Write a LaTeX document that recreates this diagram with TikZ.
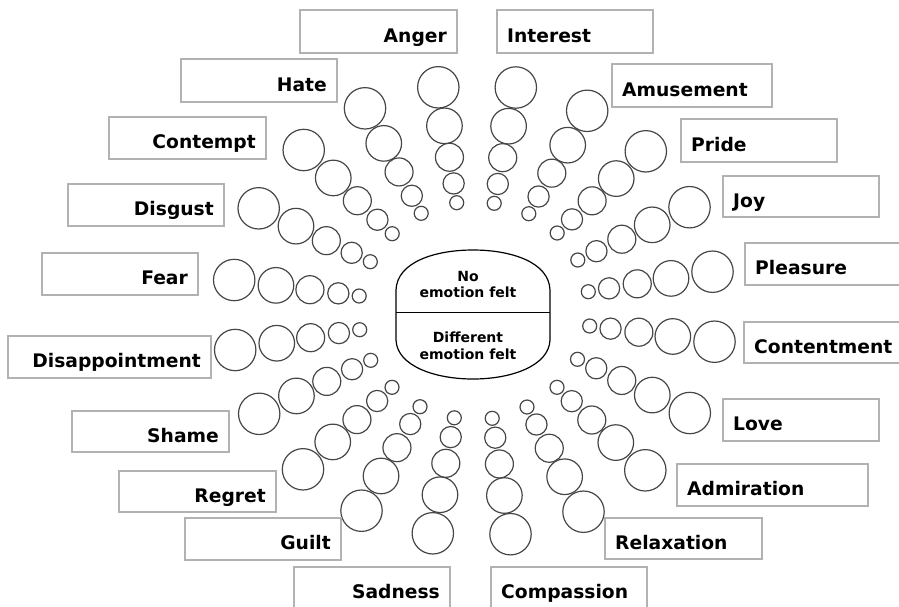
\documentclass[tikz,border=0pt]{standalone}
\usepackage{fontspec}
\setmainfont{DejaVu Sans}
\definecolor{boxgray}{RGB}{178,178,178}
\definecolor{circgray}{RGB}{70,70,70}
\begin{document}
\begin{tikzpicture}[x=1pt,y=-1pt,
  lbox/.style={draw=boxgray, line width=1.2pt},
  ltext/.style={font=\fontsize{18.7}{22}\selectfont\bfseries, inner sep=0pt},
  bub/.style={draw=circgray, line width=1.2pt},
  ctext/.style={font=\fontsize{14}{16.5}\selectfont\bfseries, inner sep=0pt, anchor=base}]
\useasboundingbox (0,0) rectangle (899,606);
\clip (0,0) rectangle (899,606);
% bubbles: small x/y ; large x/y
\foreach \sx/\sy/\lx/\ly in {
  456.7/202.7/438.3/87.3,
  421.2/213.3/365/108.3,
  392.2/233.7/303.7/150,
  370.3/261.7/258.7/208.3,
  359.2/296/234.2/280,
  359.7/329.7/235.2/350,
  370.7/360.3/259.2/413.8,
  392/387.3/303/469.3,
  420/406.7/361.5/510.7,
  454.3/417.8/432.8/533.3,
  492.2/418.3/510.5/534.2,
  527/407/583.5/511.7,
  557/387.3/645.3/470.3,
  577.5/359.3/689.8/413,
  589.7/326/714.5/341.7,
  588.3/291.7/712.5/271.7,
  577.8/260/689.5/207.2,
  557.2/233/645.8/151.3,
  528.8/213.7/587.2/110.8,
  494.2/203.3/515.8/87.5}{
  \foreach \t/\r in {0/7,0.167/10.6,0.394/14,0.666/17.8,1/20.7}{
    \draw[bub] ({\sx+\t*(\lx-\sx)},{\sy+\t*(\ly-\sy)}) circle[radius=\r pt];
  }
}
% left labels (right aligned)
\foreach \nm/\xa/\ya/\xb/\yb/\txt in {
  anger/300/10/457/53/Anger,
  hate/181/59/337/102/Hate,
  contempt/109/117/266/159/Contempt,
  disgust/68/184/224/226/Disgust,
  fear/42/253/198/295/Fear,
  disap/8/336/211/378/Disappointment,
  shame/72/411/229/452/Shame,
  regret/119/471/276/512/Regret,
  guilt/185/518/341/560/Guilt,
  sadness/294/567/450/609/Sadness}{
  \draw[lbox] (\xa,\ya) rectangle (\xb,\yb);
  \node[ltext, anchor=base east] (\nm) at ({\xb-10},{(\ya+\yb)/2+10.5}) {\txt};
}
% right labels (left aligned)
\foreach \nm/\xa/\ya/\xb/\yb/\txt in {
  interest/497/10/653/53/Interest,
  amuse/612/64/772/107/Amusement,
  pride/681/119/837/162/Pride,
  joy/723/176/879/217/Joy,
  pleasure/745/243/905/285/Pleasure,
  content/744/322/905/363/Contentment,
  love/723/399/879/441/Love,
  admir/677/464/868/506/Admiration,
  relax/605/518/762/559/Relaxation,
  compas/491/567/647/609/Compassion}{
  \draw[lbox] (\xa,\ya) rectangle (\xb,\yb);
  \node[ltext, anchor=base west] (\nm) at ({\xa+10},{(\ya+\yb)/2+10.5}) {\txt};
}
% centre shape
\draw[line width=1.2pt] (396,290) .. controls (397,262) and (435,250) .. (473,250)
  .. controls (511,250) and (549,262) .. (550,290) -- (550,340)
  .. controls (549,366) and (511,379) .. (473,379)
  .. controls (435,379) and (397,366) .. (396,340) -- cycle;
\draw[line width=1.2pt] (396,312.5) -- (550,312.5);
\node[ctext] (no1) at (468,281.7) {No};
\node[ctext] (no2) at (468,297.3) {emotion felt};
\node[ctext] (df1) at (468,342.7) {Different};
\node[ctext] (df2) at (468,359.3) {emotion felt};
\end{tikzpicture}
\end{document}
